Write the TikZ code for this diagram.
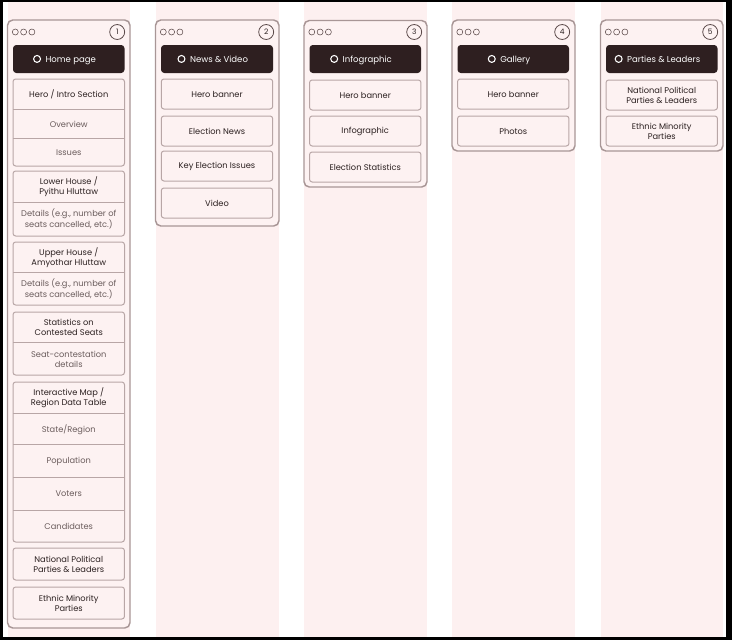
\documentclass[tikz,border=0pt]{standalone}
\usepackage{fontspec}
\setmainfont{Poppins}
\definecolor{stripe}{HTML}{FDF0F0}
\definecolor{framefill}{HTML}{FDF2F2}
\definecolor{framec}{HTML}{A89696}
\definecolor{boxc}{HTML}{B8A6A6}
\definecolor{headc}{HTML}{2E1F20}
\definecolor{maintext}{HTML}{2B2020}
\definecolor{subtext}{HTML}{6A5C5C}
\definecolor{dotc}{HTML}{5A4848}
\begin{document}
\begin{tikzpicture}[x=0.75pt,y=-0.75pt,
  font=\fontsize{6.2}{7.4}\selectfont,
  frame/.style={draw=framec, fill=framefill, line width=1.1pt, rounded corners=4pt},
  header/.style={fill=headc, rounded corners=2.5pt},
  grp/.style={draw=boxc, fill=framefill, line width=0.75pt, rounded corners=2pt},
  sep/.style={draw=boxc, line width=0.6pt},
  itembox/.style={draw=boxc, fill=framefill, line width=0.75pt, rounded corners=2pt,
    minimum width=83.6pt, minimum height=22.5pt, align=center, inner sep=0pt, text=maintext},
  row/.style={align=center, inner sep=0pt, text=maintext},
  subrow/.style={row, text=subtext},
  dot/.style={draw=dotc, line width=0.4pt, circle, inner sep=0pt, minimum size=4.5pt},
  num/.style={draw=dotc, line width=0.6pt, circle, inner sep=0pt, minimum size=11.2pt,
    font=\fontsize{5.6}{6}\selectfont, text=maintext},
  htext/.style={text=white, inner sep=0pt, anchor=base, font=\fontsize{6.4}{7.6}\selectfont},
  hicon/.style={draw=white, line width=0.8pt, circle, inner sep=0pt, minimum size=5.2pt}
]
% page and border
\fill[black] (0,0) rectangle (732,640);
\fill[white] (3,1.5) rectangle (726,637);
\useasboundingbox (0,0) rectangle (732,640);
% stripes
\foreach \L/\R in {7.5/130, 155.5/279, 304/427, 452/575, 600.5/723}
  \fill[stripe] (\L,1.5) rectangle (\R,637);

% ---------- frames ----------
\draw[frame] (7.5,20) rectangle (130,628);
\draw[frame] (155.5,20) rectangle (279,226);
\draw[frame] (304,20.5) rectangle (427,187);
\draw[frame] (452,20) rectangle (575,151);
\draw[frame] (600.5,20) rectangle (723,151);

% dots and numbers
\foreach \L/\R/\n in {7.5/130/1, 155.5/279/2, 304/427/3, 452/575/4, 600.5/723/5}{
  \node[dot] (d\n a) at (\L+7.8,32) {};
  \node[dot] (d\n b) at (\L+16.1,32) {};
  \node[dot] (d\n c) at (\L+24.4,32) {};
  \node[num] (n\n) at (\R-12.8,32) {\n};
}

% headers
\foreach \L/\R/\t/\n in {13/124.5/Home page/1, 161/273/News \& Video/2, 309.5/421/Infographic/3, 457.5/569/Gallery/4, 606/717.5/Parties \& Leaders/5}{
  \fill[header] (\L,45) rectangle (\R,73);
  \node[htext] (h\n) at ({(\L+\R)/2+2},62) {\t};
  \node[hicon] (hi\n) at ([xshift=-6.2pt, yshift=2.3pt]h\n.base west) {};
}

% ---------- column 1 ----------
\draw[grp] (13,79) rectangle (124.5,166);
\draw[sep] (13,109) -- (124.5,109);
\draw[sep] (13,138) -- (124.5,138);
\node[row] (c1a) at (68.75,94.5) {Hero / Intro Section};
\node[subrow] (c1b) at (68.75,124) {Overview};
\node[subrow] (c1c) at (68.75,152.5) {Issues};

\draw[grp] (13,171) rectangle (124.5,236);
\draw[sep] (13,202) -- (124.5,202);
\node[row] (c1d) at (68.75,187) {Lower House /\\Pyithu Hluttaw};
\node[subrow] (c1e) at (68.75,219) {Details (e.g., number of\\seats cancelled, etc.)};

\draw[grp] (13,242) rectangle (124.5,305);
\draw[sep] (13,272) -- (124.5,272);
\node[row] (c1f) at (68.75,257.5) {Upper House /\\Amyothar Hluttaw};
\node[subrow] (c1g) at (68.75,289) {Details (e.g., number of\\seats cancelled, etc.)};

\draw[grp] (13,312) rectangle (124.5,375);
\draw[sep] (13,342) -- (124.5,342);
\node[row] (c1h) at (68.75,327) {Statistics on\\Contested Seats};
\node[subrow] (c1i) at (68.75,359) {Seat-contestation\\details};

\draw[grp] (13,382) rectangle (124.5,542);
\draw[sep] (13,413) -- (124.5,413);
\draw[sep] (13,444.5) -- (124.5,444.5);
\draw[sep] (13,477) -- (124.5,477);
\draw[sep] (13,510) -- (124.5,510);
\node[row] (c1j) at (68.75,398) {Interactive Map /\\Region Data Table};
\node[subrow] (c1k) at (68.75,429.5) {State/Region};
\node[subrow] (c1l) at (68.75,461.5) {Population};
\node[subrow] (c1m) at (68.75,494) {Voters};
\node[subrow] (c1n) at (68.75,526.5) {Candidates};

\node[itembox, minimum height=24pt] (c1o) at (68.75,564) {National Political\\Parties \& Leaders};
\node[itembox, minimum height=24pt] (c1p) at (68.75,603) {Ethnic Minority\\Parties};

% ---------- column 2 ----------
\node[itembox] (c2a) at (217,94) {Hero banner};
\node[itembox] (c2b) at (217,131) {Election News};
\node[itembox] (c2c) at (217,166) {Key Election Issues};
\node[itembox] (c2d) at (217,203) {Video};

% ---------- column 3 ----------
\node[itembox] (c3a) at (365.25,95) {Hero banner};
\node[itembox] (c3b) at (365.25,131) {Infographic};
\node[itembox] (c3c) at (365.25,167) {Election Statistics};

% ---------- column 4 ----------
\node[itembox] (c4a) at (513.25,94) {Hero banner};
\node[itembox] (c4b) at (513.25,131) {Photos};

% ---------- column 5 ----------
\node[itembox] (c5a) at (661.75,95) {National Political\\Parties \& Leaders};
\node[itembox] (c5b) at (661.75,131) {Ethnic Minority\\Parties};
\end{tikzpicture}
\end{document}
